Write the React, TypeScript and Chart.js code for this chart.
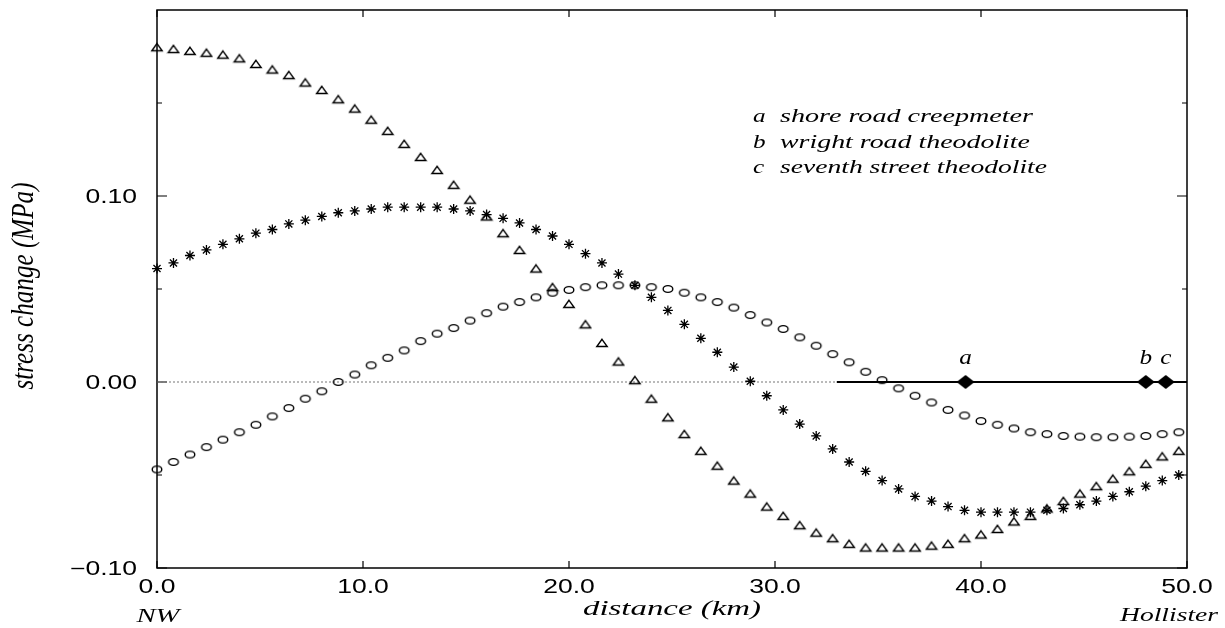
import React, { useEffect, useRef } from 'react';
import { Chart, registerables } from 'chart.js';

Chart.register(...registerables);

// distance along the fault (km), one sample every 0.8 km
const distanceKm = [
  0, 0.8, 1.6, 2.4, 3.2, 4.0, 4.8, 5.6, 6.4, 7.2,
  8.0, 8.8, 9.6, 10.4, 11.2, 12.0, 12.8, 13.6, 14.4, 15.2,
  16.0, 16.8, 17.6, 18.4, 19.2, 20.0, 20.8, 21.6, 22.4, 23.2,
  24.0, 24.8, 25.6, 26.4, 27.2, 28.0, 28.8, 29.6, 30.4, 31.2,
  32.0, 32.8, 33.6, 34.4, 35.2, 36.0, 36.8, 37.6, 38.4, 39.2,
  40.0, 40.8, 41.6, 42.4, 43.2, 44.0, 44.8, 45.6, 46.4, 47.2,
  48.0, 48.8, 49.6,
];

// stress change (MPa), triangle series
const triangleSeries = [
  0.180, 0.179, 0.178, 0.177, 0.176, 0.174, 0.171, 0.168, 0.165, 0.161,
  0.157, 0.152, 0.147, 0.141, 0.135, 0.128, 0.121, 0.114, 0.106, 0.098,
  0.089, 0.080, 0.071, 0.061, 0.051, 0.042, 0.031, 0.021, 0.011, 0.001,
  -0.009, -0.019, -0.028, -0.037, -0.045, -0.053, -0.060, -0.067, -0.072, -0.077,
  -0.081, -0.084, -0.087, -0.089, -0.089, -0.089, -0.089, -0.088, -0.087, -0.084,
  -0.082, -0.079, -0.075, -0.072, -0.068, -0.064, -0.060, -0.056, -0.052, -0.048,
  -0.044, -0.040, -0.037,
];

// stress change (MPa), asterisk series
const starSeries = [
  0.061, 0.064, 0.068, 0.071, 0.074, 0.077, 0.080, 0.082, 0.085, 0.087,
  0.089, 0.091, 0.092, 0.093, 0.094, 0.094, 0.094, 0.094, 0.093, 0.092,
  0.090, 0.088, 0.0855, 0.082, 0.0785, 0.074, 0.069, 0.064, 0.058, 0.052,
  0.0455, 0.0385, 0.031, 0.0235, 0.016, 0.008, 0.0004, -0.0074, -0.015, -0.0226,
  -0.029, -0.036, -0.043, -0.048, -0.053, -0.0575, -0.0615, -0.064, -0.067, -0.069,
  -0.070, -0.070, -0.070, -0.070, -0.069, -0.068, -0.066, -0.064, -0.0615, -0.059,
  -0.056, -0.053, -0.050,
];

// stress change (MPa), open-circle series
const circleSeries = [
  -0.047, -0.043, -0.039, -0.035, -0.031, -0.027, -0.023, -0.0185, -0.014, -0.009,
  -0.005, 0.000, 0.004, 0.009, 0.013, 0.017, 0.022, 0.026, 0.029, 0.033,
  0.037, 0.0405, 0.043, 0.0455, 0.048, 0.0495, 0.051, 0.052, 0.052, 0.052,
  0.051, 0.050, 0.048, 0.0455, 0.043, 0.040, 0.036, 0.032, 0.0285, 0.024,
  0.0195, 0.015, 0.0106, 0.0055, 0.001, -0.0034, -0.0074, -0.011, -0.015, -0.018,
  -0.021, -0.023, -0.025, -0.027, -0.028, -0.029, -0.0294, -0.0297, -0.0297, -0.0294,
  -0.029, -0.028, -0.027,
];

// measurement sites
const siteLetters = ['a', 'b', 'c'];
const siteKm = [39.25, 48.0, 48.97];
const siteNames = ['shore road creepmeter', 'wright road theodolite', 'seventh street theodolite'];

// creeping section of the fault (km)
const creepStartKm = 33;
const creepEndKm = 50;

// axes
const xMin = 0;
const xMax = 50;
const yMin = -0.1;
const yMax = 0.2;
const xTickValues = [0, 10, 20, 30, 40, 50];
const xTickLabels = ['0.0', '10.0', '20.0', '30.0', '40.0', '50.0'];
const yTickValues = [-0.1, 0.0, 0.1];
const yTickLabels = ['\u22120.10', '0.00', '0.10'];
const yMinorTickValues = [-0.05, 0.05, 0.15];

const SANS = "'Liberation Sans', Arial, Helvetica, sans-serif";
const SERIF = "'Liberation Serif', 'Times New Roman', Times, serif";

function drawText(
  ctx: CanvasRenderingContext2D,
  text: string,
  x: number,
  y: number,
  font: string,
  align: CanvasTextAlign,
  opts: { k?: number; width?: number }
) {
  ctx.save();
  ctx.font = font;
  let k = opts.k ?? 1;
  if (opts.width) {
    const w = ctx.measureText(text).width;
    if (w > 0) k = opts.width / w;
  }
  ctx.translate(x, y);
  ctx.scale(k, 1);
  ctx.textAlign = align;
  ctx.textBaseline = 'alphabetic';
  ctx.fillStyle = '#000';
  ctx.fillText(text, 0, 0);
  ctx.restore();
}

function makeEllipse(): HTMLCanvasElement {
  const c = document.createElement('canvas');
  c.width = 14;
  c.height = 12;
  const g = c.getContext('2d')!;
  g.strokeStyle = '#000';
  g.lineWidth = 1.4;
  g.beginPath();
  g.ellipse(7, 6, 4.8, 3.4, 0, 0, Math.PI * 2);
  g.stroke();
  return c;
}

function makeTriangle(): HTMLCanvasElement {
  const c = document.createElement('canvas');
  c.width = 14;
  c.height = 12;
  const g = c.getContext('2d')!;
  g.strokeStyle = '#000';
  g.lineWidth = 1.4;
  g.lineJoin = 'miter';
  g.beginPath();
  g.moveTo(7, 2.3);
  g.lineTo(12.2, 9.5);
  g.lineTo(1.8, 9.5);
  g.closePath();
  g.stroke();
  return c;
}

function makeDiamond(): HTMLCanvasElement {
  const c = document.createElement('canvas');
  c.width = 22;
  c.height = 18;
  const g = c.getContext('2d')!;
  g.fillStyle = '#000';
  g.beginPath();
  g.moveTo(11, 2);
  g.lineTo(20, 9);
  g.lineTo(11, 16);
  g.lineTo(2, 9);
  g.closePath();
  g.fill();
  return c;
}

const framePlugin = {
  id: 'frame',
  beforeDatasetsDraw(chart: any) {
    const { ctx, chartArea: a, scales } = chart;
    const xs = scales.x;
    const ys = scales.y;
    ctx.save();
    ctx.strokeStyle = '#000';
    ctx.lineWidth = 1.5;
    ctx.strokeRect(a.left, a.top, a.right - a.left, a.bottom - a.top);
    ctx.lineWidth = 1.2;
    ctx.beginPath();
    for (const v of xTickValues) {
      const px = xs.getPixelForValue(v);
      ctx.moveTo(px, a.bottom);
      ctx.lineTo(px, a.bottom - 7);
      ctx.moveTo(px, a.top);
      ctx.lineTo(px, a.top + 7);
    }
    for (const v of yTickValues) {
      const py = ys.getPixelForValue(v);
      ctx.moveTo(a.left, py);
      ctx.lineTo(a.left + 10, py);
      ctx.moveTo(a.right, py);
      ctx.lineTo(a.right - 10, py);
    }
    for (const v of yMinorTickValues) {
      const py = ys.getPixelForValue(v);
      ctx.moveTo(a.left, py);
      ctx.lineTo(a.left + 5, py);
      ctx.moveTo(a.right, py);
      ctx.lineTo(a.right - 5, py);
    }
    ctx.stroke();
    ctx.restore();
  },
  afterDraw(chart: any) {
    const { ctx, chartArea: a, scales } = chart;
    const xs = scales.x;
    const ys = scales.y;
    const tickFont = `19.5px ${SANS}`;
    const tickK = 1.36;

    yTickValues.forEach((v, i) => {
      drawText(ctx, yTickLabels[i], a.left - 20, ys.getPixelForValue(v) + 7, tickFont, 'right', { k: tickK });
    });
    xTickValues.forEach((v, i) => {
      drawText(ctx, xTickLabels[i], xs.getPixelForValue(v), a.bottom + 25, tickFont, 'center', { k: tickK });
    });

    // axis titles
    drawText(ctx, 'distance (km)', (a.left + a.right) / 2, a.bottom + 47, `italic 22px ${SERIF}`, 'center', { width: 178 });
    drawText(ctx, 'NW', xs.getPixelForValue(xMin) + 1, a.bottom + 54, `italic 18px ${SERIF}`, 'center', { width: 43 });
    drawText(ctx, 'Hollister', a.right - 18, a.bottom + 53, `italic 18px ${SERIF}`, 'center', { width: 98 });

    // y title (rotated)
    ctx.save();
    const yTitle = 'stress change (MPa)';
    ctx.font = `italic 25px ${SERIF}`;
    const w = ctx.measureText(yTitle).width;
    ctx.translate(33, (a.top + a.bottom) / 2 - 3);
    ctx.scale(1.3, 207 / w);
    ctx.rotate(-Math.PI / 2);
    ctx.textAlign = 'center';
    ctx.textBaseline = 'alphabetic';
    ctx.fillStyle = '#000';
    ctx.fillText(yTitle, 0, 0);
    ctx.restore();

    // site letters above the diamonds
    const y0 = ys.getPixelForValue(0);
    siteKm.forEach((km, i) => {
      drawText(ctx, siteLetters[i], xs.getPixelForValue(km), y0 - 18, `italic 21px ${SERIF}`, 'center', { k: 1.2 });
    });

    // legend of sites
    const legendBase = [122, 147.5, 173];
    const legendWidths = [253, 250, 267];
    siteNames.forEach((name, i) => {
      drawText(ctx, siteLetters[i], 753, legendBase[i], `italic 18px ${SERIF}`, 'left', { k: 1.4 });
      drawText(ctx, name, 780, legendBase[i], `italic 18px ${SERIF}`, 'left', { width: legendWidths[i] });
    });
  },
};

export default function App() {
  const ref = useRef<HTMLCanvasElement | null>(null);

  useEffect(() => {
    if (!ref.current) return;
    const ellipse = makeEllipse();
    const triangle = makeTriangle();
    const diamond = makeDiamond();

    const chart = new Chart(ref.current, {
      type: 'scatter',
      data: {
        datasets: [
          {
            label: 'sites',
            data: siteKm.map((x) => ({ x, y: 0 })),
            pointStyle: diamond as any,
            pointRadius: 9,
            showLine: false,
            clip: false as any,
          },
          {
            label: 'triangles',
            data: distanceKm.map((x, i) => ({ x, y: triangleSeries[i] })),
            pointStyle: triangle as any,
            pointRadius: 6,
            showLine: false,
            clip: false as any,
          },
          {
            label: 'stars',
            data: distanceKm.map((x, i) => ({ x, y: starSeries[i] })),
            pointStyle: 'star',
            pointRadius: 5,
            borderColor: '#000',
            backgroundColor: '#000',
            borderWidth: 1.3,
            showLine: false,
            clip: false as any,
          },
          {
            label: 'circles',
            data: distanceKm.map((x, i) => ({ x, y: circleSeries[i] })),
            pointStyle: ellipse as any,
            pointRadius: 5,
            showLine: false,
            clip: false as any,
          },
          {
            label: 'creeping section',
            data: [
              { x: creepStartKm, y: 0 },
              { x: creepEndKm, y: 0 },
            ],
            showLine: true,
            borderColor: '#000',
            borderWidth: 2,
            pointRadius: 0,
            clip: false as any,
          },
          {
            label: 'zero',
            data: [
              { x: xMin, y: 0 },
              { x: creepStartKm, y: 0 },
            ],
            showLine: true,
            borderColor: '#777',
            borderWidth: 1,
            borderDash: [2, 2],
            pointRadius: 0,
          },
        ],
      },
      options: {
        animation: false,
        responsive: true,
        maintainAspectRatio: false,
        events: [],
        layout: { padding: { left: 157, right: 38, top: 9, bottom: 60 } },
        plugins: {
          legend: { display: false },
          tooltip: { enabled: false },
        },
        scales: {
          x: { type: 'linear', min: xMin, max: xMax, display: false },
          y: { type: 'linear', min: yMin, max: yMax, display: false },
        },
      },
      plugins: [framePlugin],
    });

    return () => {
      chart.destroy();
    };
  }, []);

  return (
    <div style={{ position: 'fixed', left: 0, top: 0, width: 1225, height: 628, background: '#fff' }}>
      <canvas ref={ref} />
    </div>
  );
}
